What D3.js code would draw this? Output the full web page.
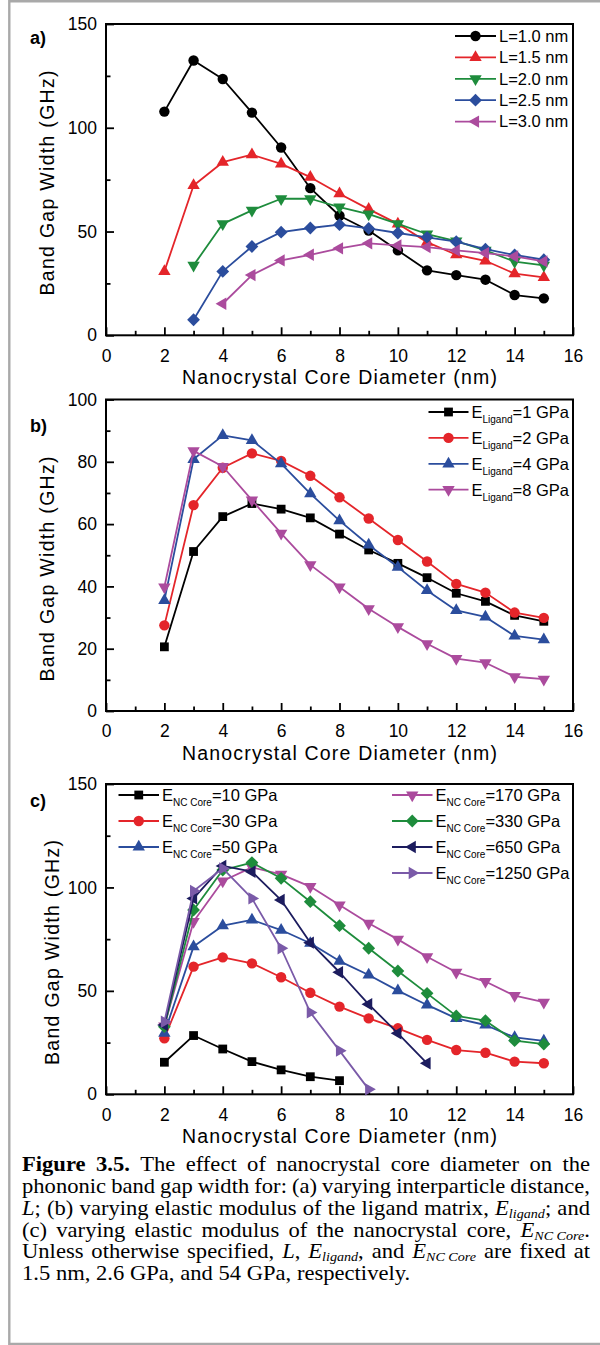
<!DOCTYPE html>
<html>
<head>
<meta charset="utf-8">
<script src="https://cdn.jsdelivr.net/npm/d3@7"></script>
<style>
  html, body { margin: 0; padding: 0; background: #fff; }
  svg { display: block; }
</style>
</head>
<body>
<svg id="fig" width="600" height="1345"></svg>
<script>
// ---- data ---------------------------------------------------------------
const coreDiameter = [2, 3, 4, 5, 6, 7, 8, 9, 10, 11, 12, 13, 14, 15];

const xTicks = [0, 2, 4, 6, 8, 10, 12, 14, 16];
const xMinorTicks = [1, 3, 5, 7, 9, 11, 13, 15];
const yTicks150 = [0, 50, 100, 150];
const yMinor150 = [25, 75, 125];
const yTicks100 = [0, 20, 40, 60, 80, 100];
const yMinor100 = [10, 30, 50, 70, 90];

// (a) interparticle distance L
const spacingLabels = ["L=1.0 nm", "L=1.5 nm", "L=2.0 nm", "L=2.5 nm", "L=3.0 nm"];
const gapL10 = [107.8, 132.4, 123.5, 107.3, 90.5, 70.9, 57.6, 50.5, 40.9, 31.3, 29.0, 26.8, 19.4, 17.8];
const gapL15 = [30.8, 72.2, 83.4, 87.0, 82.6, 76.2, 68.2, 60.8, 53.7, 44.9, 38.8, 35.9, 29.7, 27.9];
const gapL20 = [null, 33.7, 53.7, 60.2, 65.8, 65.8, 61.8, 58.4, 53.7, 48.8, 45.4, 40.9, 35.5, 33.7];
const gapL25 = [null, 7.5, 30.8, 42.8, 49.7, 51.7, 53.3, 51.5, 49.3, 47.2, 45.1, 41.5, 38.7, 36.4];
const gapL30 = [null, null, 15.2, 29.0, 36.1, 38.8, 41.9, 44.3, 43.3, 42.5, 40.9, 39.6, 38.0, 35.6];

// (b) ligand modulus (GPa)
const ligandModuli = ["1", "2", "4", "8"];
const gapLig1 = [20.6, 51.2, 62.4, 66.6, 64.8, 62.0, 56.8, 51.7, 47.4, 42.8, 37.8, 35.2, 30.7, 28.8];
const gapLig2 = [27.5, 66.1, 78.1, 82.7, 80.3, 75.5, 68.6, 61.8, 54.9, 48.0, 40.8, 38.0, 31.6, 29.9];
const gapLig4 = [35.5, 80.8, 88.5, 86.9, 79.4, 69.8, 61.1, 53.3, 46.2, 38.7, 32.3, 30.2, 24.1, 22.9];
const gapLig8 = [39.8, 83.5, 78.5, 67.7, 57.0, 46.9, 39.8, 32.8, 27.0, 21.6, 16.8, 15.5, 11.0, 10.2];

// (c) nanocrystal core modulus (GPa)
const coreModuli = ["10", "30", "50", "170", "330", "650", "1250"];
const gapCore10   = [15.5, 28.4, 21.9, 15.8, 11.8, 8.5, 6.6, null, null, null, null, null, null, null];
const gapCore30   = [27.1, 61.7, 66.2, 63.3, 56.6, 49.1, 42.4, 36.7, 31.9, 26.3, 21.4, 20.1, 15.8, 15.0];
const gapCore50   = [29.5, 71.4, 81.5, 84.3, 79.4, 73.0, 64.4, 57.7, 50.1, 43.2, 36.7, 33.5, 27.5, 25.8];
const gapCore170  = [33.0, 83.5, 103.1, 109.7, 106.3, 100.4, 91.5, 82.7, 74.9, 66.5, 59.0, 54.5, 47.7, 44.5];
const gapCore330  = [32.7, 89.1, 108.4, 112.0, 104.4, 93.1, 81.5, 70.6, 59.6, 48.8, 37.9, 35.6, 25.9, 24.3];
const gapCore650  = [33.5, 94.7, 110.4, 107.6, 93.9, 73.3, 59.0, 43.5, 29.5, 15.0, null, null, null, null];
const gapCore1250 = [35.1, 98.3, 109.2, 94.7, 70.6, 39.6, 21.1, 2.4, null, null, null, null, null, null];

const captionLines = [
  "**Figure** **3.5.** The effect of nanocrystal core diameter on the",
  "phononic band gap width for: (a) varying interparticle distance,",
  "*L*; (b) varying elastic modulus of the ligand matrix, *E*_{ligand}; and",
  "(c) varying elastic modulus of the nanocrystal core, *E*_{NC~Core}.",
  "Unless otherwise specified, *L*, *E*_{ligand}, and *E*_{NC~Core} are fixed at",
  "1.5 nm, 2.6 GPa, and 54 GPa, respectively."
];

// ---- styling ------------------------------------------------------------
const C = {
  black: "#000000", red: "#e4252a", green: "#1e8c3c", blue: "#2b4d9d",
  magenta: "#ab4b9d", navy: "#1c1c5e", purple: "#7a5aa8"
};
const SANS = "'Liberation Sans', Arial, Helvetica, sans-serif";
const SERIF = "'Liberation Serif', 'Times New Roman', serif";

const svg = d3.select("#fig");

// page frame
svg.append("path")
  .attr("d", "M600,1.3H9.3V1344H600")
  .attr("fill", "none").attr("stroke", "#a9a9a9").attr("stroke-width", 2.4);

function markerPath(shape) {
  switch (shape) {
    case "circle": { const r = 5.2; return `M${r},0A${r},${r} 0 1,1 ${-r},0A${r},${r} 0 1,1 ${r},0Z`; }
    case "square": { const s = 4.4; return `M${-s},${-s}H${s}V${s}H${-s}Z`; }
    case "diamond": { const d = 6.4; return `M0,${-d}L${d},0L0,${d}L${-d},0Z`; }
    default: {
      const a = 6.2, h = a * Math.sqrt(3);
      const up = [[0, -2 * h / 3], [a, h / 3], [-a, h / 3]];
      const rot = { up: 0, right: 90, down: 180, left: 270 }[shape] * Math.PI / 180;
      const pts = up.map(([x, y]) => [x * Math.cos(rot) - y * Math.sin(rot), x * Math.sin(rot) + y * Math.cos(rot)]);
      return "M" + pts.map(p => p[0].toFixed(2) + "," + p[1].toFixed(2)).join("L") + "Z";
    }
  }
}

const x = d3.scaleLinear().domain([0, 16]).range([106, 573]);

function drawPanel(p) {
  const g = svg.append("g");
  const y = d3.scaleLinear().domain([0, p.yMax]).range([p.bottom, p.top]);

  // major / minor ticks, pointing inward
  const ax = g.append("g").attr("transform", `translate(0,${p.bottom})`)
    .call(d3.axisBottom(x).tickValues(xTicks).tickSize(-8).tickPadding(14).tickFormat(d3.format("d")));
  const axm = g.append("g").attr("transform", `translate(0,${p.bottom})`)
    .call(d3.axisBottom(x).tickValues(xMinorTicks).tickSize(-4.5).tickFormat(""));
  const ay = g.append("g").attr("transform", `translate(106,0)`)
    .call(d3.axisLeft(y).tickValues(p.yTicks).tickSize(-8).tickPadding(9).tickFormat(d3.format("d")));
  const aym = g.append("g").attr("transform", `translate(106,0)`)
    .call(d3.axisLeft(y).tickValues(p.yMinor).tickSize(-4.5).tickFormat(""));
  [ax, axm, ay, aym].forEach(a => {
    a.select(".domain").remove();
    a.selectAll(".tick line").attr("stroke", "#000").attr("stroke-width", 1.8);
    a.selectAll(".tick text").attr("font-family", SANS).attr("font-size", 17.5).attr("fill", "#000");
  });

  // plot frame
  g.append("rect")
    .attr("x", x(0)).attr("y", p.top)
    .attr("width", x(16) - x(0)).attr("height", p.bottom - p.top)
    .attr("fill", "none").attr("stroke", "#000").attr("stroke-width", 2);

  // axis titles
  g.append("text")
    .attr("x", (x(0) + x(16)) / 2).attr("y", p.bottom + 49)
    .attr("text-anchor", "middle").attr("font-family", SANS).attr("font-size", 19.5)
    .attr("textLength", 315).attr("lengthAdjust", "spacing")
    .text("Nanocrystal Core Diameter (nm)");
  g.append("text")
    .attr("transform", `translate(${p.titleX},${p.titleY}) rotate(-90)`)
    .attr("text-anchor", "middle").attr("font-family", SANS).attr("font-size", 19.5)
    .attr("textLength", 225).attr("lengthAdjust", "spacing")
    .text("Band Gap Width (GHz)");

  // panel letter
  g.append("text")
    .attr("x", 30).attr("y", p.labelY)
    .attr("font-family", SANS).attr("font-weight", "bold").attr("font-size", 18)
    .text(p.label);

  // series
  const line = d3.line()
    .defined(d => d.v !== null)
    .x(d => x(d.d)).y(d => y(d.v));
  p.series.forEach(s => {
    const pts = coreDiameter.map((d, i) => ({ d, v: s.values[i] }));
    const sg = g.append("g");
    sg.append("path").attr("d", line(pts))
      .attr("fill", "none").attr("stroke", s.color).attr("stroke-width", 1.8)
      .attr("stroke-linejoin", "round");
    sg.selectAll("path.m").data(pts.filter(d => d.v !== null)).join("path")
      .attr("class", "m")
      .attr("d", markerPath(s.shape))
      .attr("transform", d => `translate(${x(d.d)},${y(d.v)})`)
      .attr("fill", s.color);
  });

  // legend
  p.series.forEach((s, i) => {
    const L = p.legendPos(i);
    const lg = g.append("g");
    lg.append("line").attr("x1", L.x0).attr("x2", L.x1).attr("y1", L.y).attr("y2", L.y)
      .attr("stroke", s.color).attr("stroke-width", 1.8);
    lg.append("path").attr("d", markerPath(s.shape))
      .attr("transform", `translate(${(L.x0 + L.x1) / 2},${L.y})`).attr("fill", s.color);
    const t = lg.append("text").attr("x", L.x1 + 3).attr("y", L.y + 5.8)
      .attr("font-family", SANS).attr("font-size", 16.5).attr("fill", "#000");
    if (s.sub) {
      t.append("tspan").text("E");
      t.append("tspan").attr("font-size", 10).attr("dy", 5).text(s.sub);
      t.append("tspan").attr("dy", -5).text("=" + s.name + " GPa");
    } else {
      t.text(s.name);
    }
  });
}

drawPanel({
  label: "a)", labelY: 44, top: 24, bottom: 335.3, yMax: 150,
  yTicks: yTicks150, yMinor: yMinor150, titleX: 53.5, titleY: 183,
  series: [
    { name: spacingLabels[0], values: gapL10, color: C.black, shape: "circle" },
    { name: spacingLabels[1], values: gapL15, color: C.red, shape: "up" },
    { name: spacingLabels[2], values: gapL20, color: C.green, shape: "down" },
    { name: spacingLabels[3], values: gapL25, color: C.blue, shape: "diamond" },
    { name: spacingLabels[4], values: gapL30, color: C.magenta, shape: "left" }
  ],
  legendPos: i => ({ x0: 455, x1: 496, y: 36 + i * 21.4 })
});

drawPanel({
  label: "b)", labelY: 431.5, top: 399.5, bottom: 711, yMax: 100,
  yTicks: yTicks100, yMinor: yMinor100, titleX: 53.5, titleY: 569,
  series: [
    { name: ligandModuli[0], sub: "Ligand", values: gapLig1, color: C.black, shape: "square" },
    { name: ligandModuli[1], sub: "Ligand", values: gapLig2, color: C.red, shape: "circle" },
    { name: ligandModuli[2], sub: "Ligand", values: gapLig4, color: C.blue, shape: "up" },
    { name: ligandModuli[3], sub: "Ligand", values: gapLig8, color: C.magenta, shape: "down" }
  ],
  legendPos: i => ({ x0: 428.5, x1: 468.5, y: 412 + i * 25.9 })
});

drawPanel({
  label: "c)", labelY: 806.5, top: 784, bottom: 1094.3, yMax: 150,
  yTicks: yTicks150, yMinor: yMinor150, titleX: 58.5, titleY: 952.5,
  series: [
    { name: coreModuli[0], sub: "NC Core", values: gapCore10, color: C.black, shape: "square" },
    { name: coreModuli[1], sub: "NC Core", values: gapCore30, color: C.red, shape: "circle" },
    { name: coreModuli[2], sub: "NC Core", values: gapCore50, color: C.blue, shape: "up" },
    { name: coreModuli[3], sub: "NC Core", values: gapCore170, color: C.magenta, shape: "down" },
    { name: coreModuli[4], sub: "NC Core", values: gapCore330, color: C.green, shape: "diamond" },
    { name: coreModuli[5], sub: "NC Core", values: gapCore650, color: C.navy, shape: "left" },
    { name: coreModuli[6], sub: "NC Core", values: gapCore1250, color: C.purple, shape: "right" }
  ],
  legendPos: i => i < 3
    ? { x0: 118.5, x1: 159, y: 795 + i * 26 }
    : { x0: 392, x1: 432.5, y: 795 + (i - 3) * 26 }
});

// ---- caption (justified) -------------------------------------------------
function parseWord(w) {
  return w.split(/(\*\*[^*]+\*\*|\*[^*]+\*|_\{[^}]+\})/).filter(s => s).map(s => {
    if (s.startsWith("**")) return { t: s.slice(2, -2), bold: true };
    if (s.startsWith("*")) return { t: s.slice(1, -1), italic: true };
    if (s.startsWith("_{")) return { t: s.slice(2, -1).replace(/~/g, " "), sub: true };
    return { t: s };
  });
}

const capScaleX = 1.13;
const capLeft = 22, capRight = 590;
const capWidth = (capRight - capLeft) / capScaleX;
const cap = svg.append("g")
  .attr("transform", `translate(${capLeft},0) scale(${capScaleX},1)`)
  .attr("font-family", SERIF).attr("font-size", 20).attr("fill", "#000");

captionLines.forEach((lineStr, li) => {
  const baseY = 1171.5 + li * 21.7;
  const words = lineStr.split(" ").map(parseWord);
  const nodes = words.map(segs => {
    const t = cap.append("text").attr("y", baseY);
    let lowered = false;
    segs.forEach(s => {
      const ts = t.append("tspan").text(s.t);
      if (s.bold) ts.attr("font-weight", "bold");
      if (s.italic) ts.attr("font-style", "italic");
      if (s.sub) {
        ts.attr("font-style", "italic").attr("font-size", 12.5).attr("dy", 3);
        lowered = true;
      } else if (lowered) {
        ts.attr("dy", -3);
        lowered = false;
      }
    });
    return t;
  });
  const widths = nodes.map(n => n.node().getComputedTextLength());
  const total = d3.sum(widths);
  const last = li === captionLines.length - 1;
  const gap = last ? 5 : (capWidth - total) / (nodes.length - 1);
  let cx = 0;
  nodes.forEach((n, i) => {
    n.attr("x", cx);
    cx += widths[i] + gap;
  });
});
</script>
</body>
</html>
